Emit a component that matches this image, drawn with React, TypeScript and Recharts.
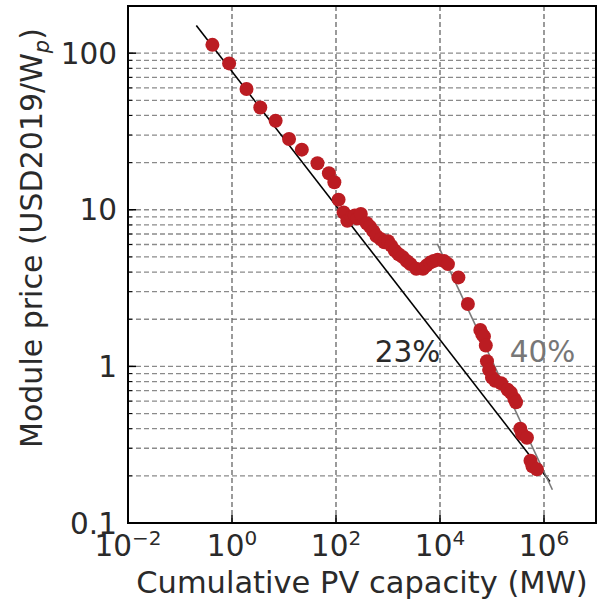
import React from 'react';
import {
  ComposedChart,
  Scatter,
  Line,
  XAxis,
  YAxis,
  CartesianGrid,
  ReferenceArea,
  ReferenceDot,
  Label,
} from 'recharts';

// cumulative capacity (MW) and module price (USD2019/Wp)
const capacity = [
  0.42, 0.88, 1.9, 3.5, 6.9, 12.5, 22, 44, 73, 93, 112, 140, 165, 200, 230, 260, 300, 390,
  450, 520, 600, 720, 850, 1000, 1150, 1350, 1600, 1900, 2300, 2700, 3500, 4700, 5500, 6500,
  7500, 9000, 12000, 14200, 22600, 34400, 59600, 65000, 70000, 76000, 80000, 88000, 100000,
  115000, 150000, 200000, 230000, 270000, 290000, 350000, 380000, 470000, 550000, 600000,
  730000,
];
const price = [
  113, 86, 59, 45, 37, 28.3, 24.2, 19.8, 17.1, 15.0, 11.6, 9.6, 8.5, 9.0, 9.2, 8.8, 9.4, 8.2,
  7.8, 7.3, 6.8, 6.5, 6.2, 6.3, 5.9, 5.5, 5.2, 5.0, 4.7, 4.5, 4.2, 4.2, 4.4, 4.6,
  4.7, 4.8, 4.7, 4.5, 3.7, 2.5, 1.71, 1.6, 1.55, 1.36, 1.08, 0.95, 0.85,
  0.81, 0.78, 0.71, 0.68, 0.62, 0.59, 0.4, 0.37, 0.35, 0.25, 0.23,
  0.22,
];

// learning curve fits (end points)
const fit23x = [0.206, 1.3e6];
const fit23y = [150, 0.184];
const fit40x = [8870, 1.45e6];
const fit40y = [6.07, 0.163];

const xTicks = [0.01, 1, 100, 1e4, 1e6];
const xExp = ['\u22122', '0', '2', '4', '6'];
const yMajor = [0.1, 1, 10, 100];
const yTicks = [
  0.1, 0.2, 0.3, 0.4, 0.5, 0.6, 0.7, 0.8, 0.9,
  1, 2, 3, 4, 5, 6, 7, 8, 9,
  10, 20, 30, 40, 50, 60, 70, 80, 90,
  100, 200,
];

const points = capacity.map((x, i) => ({ x, y: price[i] }));
const fit23 = fit23x.map((x, i) => ({ x, y: fit23y[i] }));
const fit40 = fit40x.map((x, i) => ({ x, y: fit40y[i] }));

const FONT = '"DejaVu Sans", sans-serif';
const TXT = '#2a2a2a';
const RED = '#bb1c22';

const XTick = ({ x, y, payload }: any) => {
  const i = xTicks.indexOf(payload.value);
  return (
    <g>
      <line x1={x} x2={x} y1={y} y2={y - 8} stroke="#000" strokeWidth={1.5} />
      <text x={x} y={y + 33} textAnchor="middle" fontFamily={FONT} fontSize={29.5} fill={TXT}>
        10
        <tspan dy={-11} fontSize={20}>
          {xExp[i]}
        </tspan>
      </text>
    </g>
  );
};

const YTick = ({ x, y, payload }: any) => {
  const major = yMajor.includes(payload.value);
  return (
    <g>
      <line x1={x} x2={x + (major ? 8 : 4)} y1={y} y2={y} stroke="#000" strokeWidth={major ? 1.5 : 1} />
      {major && (
        <text x={x - 11} y={y + 10.5} textAnchor="end" fontFamily={FONT} fontSize={29.5} fill={TXT}>
          {String(payload.value)}
        </text>
      )}
    </g>
  );
};

const Dot = ({ cx, cy }: any) => <circle cx={cx} cy={cy} r={7} fill={RED} />;

const annoLabel = (text: string, color: string) => ({ viewBox }: any) => (
  <text
    x={viewBox.x + viewBox.width / 2}
    y={viewBox.y + viewBox.height / 2}
    textAnchor="middle"
    fontFamily={FONT}
    fontSize={29.5}
    fill={color}
  >
    {text}
  </text>
);

export default function App() {
  return (
    <div style={{ width: 605, height: 606, background: '#fff' }}>
      <style>{'body{margin:0}'}</style>
      <ComposedChart width={605} height={606} margin={{ top: 6, right: 9, left: 0, bottom: 0 }}>
        <CartesianGrid vertical={false} stroke="#8a8a8a" strokeDasharray="5 3" strokeWidth={1.3} />
        <CartesianGrid horizontal={false} stroke="#666" strokeDasharray="5 3" strokeWidth={1.3} />
        <XAxis
          dataKey="x"
          type="number"
          scale="log"
          domain={[0.01, 1e7]}
          ticks={xTicks}
          allowDataOverflow
          height={83}
          axisLine={false}
          tickLine={false}
          tickSize={0}
          tickMargin={0}
          tick={<XTick />}
          interval={0}
        >
          <Label
            content={() => (
              <text x={362} y={593} textAnchor="middle" fontFamily={FONT} fontSize={30.5} fill={TXT}>
                Cumulative PV capacity (MW)
              </text>
            )}
          />
        </XAxis>
        <YAxis
          dataKey="y"
          type="number"
          scale="log"
          domain={[0.1, 200]}
          ticks={yTicks}
          allowDataOverflow
          width={128}
          axisLine={false}
          tickLine={false}
          tickSize={0}
          tickMargin={0}
          tick={<YTick />}
          interval={0}
        >
          <Label
            content={() => (
              <text
                transform="translate(42, 238) rotate(-90)"
                x={0}
                y={0}
                textAnchor="middle"
                fontFamily={FONT}
                fontSize={30}
                fill={TXT}
              >
                Module price (USD2019/W
                <tspan dy={7} fontSize={21} fontStyle="italic">
                  p
                </tspan>
                <tspan dy={-7}>)</tspan>
              </text>
            )}
          />
        </YAxis>
        <Scatter data={points} dataKey="y" shape={<Dot />} isAnimationActive={false} />
        <Line
          data={fit23}
          dataKey="y"
          stroke="#000"
          strokeWidth={1.6}
          dot={false}
          activeDot={false}
          isAnimationActive={false}
        />
        <Line
          data={fit40}
          dataKey="y"
          stroke="#7a7a7a"
          strokeWidth={1.6}
          dot={false}
          activeDot={false}
          isAnimationActive={false}
        />
        <ReferenceDot x={2370} y={1.07} r={0} fill="none" stroke="none" label={annoLabel('23%', '#2a2a2a')} />
        <ReferenceDot x={935000} y={1.07} r={0} fill="none" stroke="none" label={annoLabel('40%', '#777')} />
        <ReferenceArea x1={0.01} x2={1e7} y1={0.1} y2={200} fill="none" stroke="#000" strokeWidth={2} />
      </ComposedChart>
    </div>
  );
}
